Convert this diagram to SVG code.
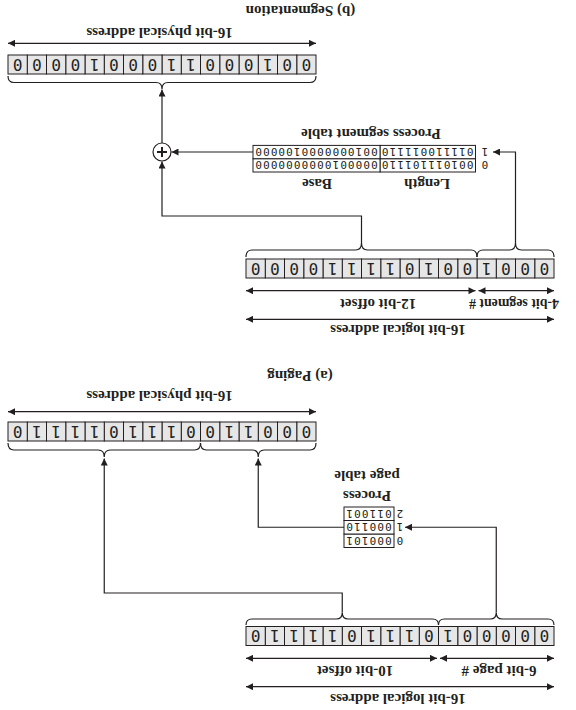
<svg xmlns="http://www.w3.org/2000/svg" width="576" height="710" viewBox="0 0 576 710">
<style>
.lbl{font-family:"Liberation Serif","Times New Roman",serif;font-weight:bold;font-size:15px;fill:#231f20;text-anchor:middle}
.cell{fill:#e6e6e6;stroke:#231f20;stroke-width:1}
.bit{font-family:"DejaVu Sans Mono",monospace;font-size:16px;fill:#231f20;text-anchor:middle}
.tc{fill:#fff;stroke:#231f20;stroke-width:1}
.tbit{font-family:"DejaVu Sans Mono",monospace;font-size:11px;letter-spacing:1.1px;fill:#231f20;text-anchor:middle}
.tnum{font-family:"DejaVu Sans Mono",monospace;font-size:11px;fill:#231f20;text-anchor:middle}
.ln{fill:none;stroke:#231f20;stroke-width:1.2}
.da{fill:none;stroke:#231f20;stroke-width:1.2;marker-start:url(#ah);marker-end:url(#ah)}
.sa{fill:none;stroke:#231f20;stroke-width:1.2;marker-end:url(#ah)}
</style>
<defs>
<marker id="ah" viewBox="0 0 10 10" refX="10" refY="5" markerWidth="8" markerHeight="7" markerUnits="userSpaceOnUse" orient="auto-start-reverse"><path d="M0,0 L10,5 L0,10 z" fill="#231f20"/></marker>
</defs>
<rect width="576" height="710" fill="#fff"/>
<g transform="rotate(180 288 355)">
<!-- ===== Paging ===== -->
<g id="pg-logical-labels">
<text class="lbl" x="178" y="16">16-bit logical address</text>
<text class="lbl" x="77" y="44">6-bit page #</text>
<text class="lbl" x="221" y="44">10-bit offset</text>
</g>
<g id="pg-logical">
<rect class="cell" x="22" y="64.5" width="19.25" height="19"/><rect class="cell" x="41.25" y="64.5" width="19.25" height="19"/><rect class="cell" x="60.5" y="64.5" width="19.25" height="19"/><rect class="cell" x="79.75" y="64.5" width="19.25" height="19"/><rect class="cell" x="99" y="64.5" width="19.25" height="19"/><rect class="cell" x="118.25" y="64.5" width="19.25" height="19"/><rect class="cell" x="137.5" y="64.5" width="19.25" height="19"/><rect class="cell" x="156.75" y="64.5" width="19.25" height="19"/><rect class="cell" x="176" y="64.5" width="19.25" height="19"/><rect class="cell" x="195.25" y="64.5" width="19.25" height="19"/><rect class="cell" x="214.5" y="64.5" width="19.25" height="19"/><rect class="cell" x="233.75" y="64.5" width="19.25" height="19"/><rect class="cell" x="253" y="64.5" width="19.25" height="19"/><rect class="cell" x="272.25" y="64.5" width="19.25" height="19"/><rect class="cell" x="291.5" y="64.5" width="19.25" height="19"/><rect class="cell" x="310.75" y="64.5" width="19.25" height="19"/>
<text class="bit" y="79.8"><tspan x="31.6">0</tspan><tspan x="50.9">0</tspan><tspan x="70.1">0</tspan><tspan x="89.4">0</tspan><tspan x="108.6">0</tspan><tspan x="127.9">1</tspan><tspan x="147.1">0</tspan><tspan x="166.4">1</tspan><tspan x="185.6">1</tspan><tspan x="204.9">1</tspan><tspan x="224.1">0</tspan><tspan x="243.4">1</tspan><tspan x="262.6">1</tspan><tspan x="281.9">1</tspan><tspan x="301.1">1</tspan><tspan x="320.4">0</tspan></text>
</g>
<g id="pg-page-table">
<rect class="tc" x="182" y="162.5" width="50" height="13.5"/><rect class="tc" x="182" y="176" width="50" height="13.5"/><rect class="tc" x="182" y="189.5" width="50" height="13.5"/>
<text class="tbit" x="207.5" y="173.2">000101</text><text class="tbit" x="207.5" y="186.7">000110</text><text class="tbit" x="207.5" y="200.2">011001</text>
<text class="tnum" x="176" y="173.2">0</text><text class="tnum" x="176" y="186.7">1</text><text class="tnum" x="176" y="200.2">2</text>
<text class="lbl" x="209" y="219">Process</text>
<text class="lbl" x="209" y="239">page table</text>
</g>
<g id="pg-physical">
<rect class="cell" x="260" y="269" width="19.25" height="19"/><rect class="cell" x="279.25" y="269" width="19.25" height="19"/><rect class="cell" x="298.5" y="269" width="19.25" height="19"/><rect class="cell" x="317.75" y="269" width="19.25" height="19"/><rect class="cell" x="337" y="269" width="19.25" height="19"/><rect class="cell" x="356.25" y="269" width="19.25" height="19"/><rect class="cell" x="375.5" y="269" width="19.25" height="19"/><rect class="cell" x="394.75" y="269" width="19.25" height="19"/><rect class="cell" x="414" y="269" width="19.25" height="19"/><rect class="cell" x="433.25" y="269" width="19.25" height="19"/><rect class="cell" x="452.5" y="269" width="19.25" height="19"/><rect class="cell" x="471.75" y="269" width="19.25" height="19"/><rect class="cell" x="491" y="269" width="19.25" height="19"/><rect class="cell" x="510.25" y="269" width="19.25" height="19"/><rect class="cell" x="529.5" y="269" width="19.25" height="19"/><rect class="cell" x="548.75" y="269" width="19.25" height="19"/>
<text class="bit" y="284.3"><tspan x="269.6">0</tspan><tspan x="288.9">0</tspan><tspan x="308.1">0</tspan><tspan x="327.4">1</tspan><tspan x="346.6">1</tspan><tspan x="365.9">0</tspan><tspan x="385.1">0</tspan><tspan x="404.4">1</tspan><tspan x="423.6">1</tspan><tspan x="442.9">1</tspan><tspan x="462.1">0</tspan><tspan x="481.4">1</tspan><tspan x="500.6">1</tspan><tspan x="519.9">1</tspan><tspan x="539.1">1</tspan><tspan x="558.4">0</tspan></text>
<text class="lbl" x="416.5" y="319.5">16-bit physical address</text>
<text class="lbl" x="276" y="339.5">(a) Paging</text>
</g>
<!-- ===== Segmentation ===== -->
<g id="sg-logical-labels">
<text class="lbl" x="178" y="385.5">16-bit logical address</text>
<text class="lbl" x="62" y="411.5" textLength="90" lengthAdjust="spacingAndGlyphs">4-bit segment #</text>
<text class="lbl" x="198" y="411.5">12-bit offset</text>
</g>
<g id="sg-logical">
<rect class="cell" x="22" y="432" width="19.25" height="19"/><rect class="cell" x="41.25" y="432" width="19.25" height="19"/><rect class="cell" x="60.5" y="432" width="19.25" height="19"/><rect class="cell" x="79.75" y="432" width="19.25" height="19"/><rect class="cell" x="99" y="432" width="19.25" height="19"/><rect class="cell" x="118.25" y="432" width="19.25" height="19"/><rect class="cell" x="137.5" y="432" width="19.25" height="19"/><rect class="cell" x="156.75" y="432" width="19.25" height="19"/><rect class="cell" x="176" y="432" width="19.25" height="19"/><rect class="cell" x="195.25" y="432" width="19.25" height="19"/><rect class="cell" x="214.5" y="432" width="19.25" height="19"/><rect class="cell" x="233.75" y="432" width="19.25" height="19"/><rect class="cell" x="253" y="432" width="19.25" height="19"/><rect class="cell" x="272.25" y="432" width="19.25" height="19"/><rect class="cell" x="291.5" y="432" width="19.25" height="19"/><rect class="cell" x="310.75" y="432" width="19.25" height="19"/>
<text class="bit" y="447.3"><tspan x="31.6">0</tspan><tspan x="50.9">0</tspan><tspan x="70.1">0</tspan><tspan x="89.4">1</tspan><tspan x="108.6">0</tspan><tspan x="127.9">0</tspan><tspan x="147.1">1</tspan><tspan x="166.4">0</tspan><tspan x="185.6">1</tspan><tspan x="204.9">1</tspan><tspan x="224.1">1</tspan><tspan x="243.4">1</tspan><tspan x="262.6">0</tspan><tspan x="281.9">0</tspan><tspan x="301.1">0</tspan><tspan x="320.4">0</tspan></text>
</g>
<g id="sg-segment-table">
<text class="lbl" x="149" y="531.5">Length</text>
<text class="lbl" x="259" y="531.5">Base</text>
<rect class="tc" x="100.5" y="538" width="95.5" height="13.3"/><rect class="tc" x="196" y="538" width="127" height="13.3"/>
<rect class="tc" x="100.5" y="551.3" width="95.5" height="13.3"/><rect class="tc" x="196" y="551.3" width="127" height="13.3"/>
<text class="tbit" x="148.8" y="548.7">001011101110</text><text class="tbit" x="260" y="548.7">0000010000000000</text>
<text class="tbit" x="148.8" y="562">011110011110</text><text class="tbit" x="260" y="562">0010000000100000</text>
<text class="tnum" x="91" y="548.7">0</text><text class="tnum" x="91" y="562">1</text>
<text class="lbl" x="205" y="581.5">Process segment table</text>
</g>
<g id="sg-adder">
<circle cx="414" cy="558" r="9" fill="#fff" stroke="#231f20" stroke-width="1.2"/>
<path d="M409,558 H419 M414,553 V563" stroke="#231f20" stroke-width="2" fill="none"/>
</g>
<g id="sg-physical">
<rect class="cell" x="260" y="636" width="19.25" height="19"/><rect class="cell" x="279.25" y="636" width="19.25" height="19"/><rect class="cell" x="298.5" y="636" width="19.25" height="19"/><rect class="cell" x="317.75" y="636" width="19.25" height="19"/><rect class="cell" x="337" y="636" width="19.25" height="19"/><rect class="cell" x="356.25" y="636" width="19.25" height="19"/><rect class="cell" x="375.5" y="636" width="19.25" height="19"/><rect class="cell" x="394.75" y="636" width="19.25" height="19"/><rect class="cell" x="414" y="636" width="19.25" height="19"/><rect class="cell" x="433.25" y="636" width="19.25" height="19"/><rect class="cell" x="452.5" y="636" width="19.25" height="19"/><rect class="cell" x="471.75" y="636" width="19.25" height="19"/><rect class="cell" x="491" y="636" width="19.25" height="19"/><rect class="cell" x="510.25" y="636" width="19.25" height="19"/><rect class="cell" x="529.5" y="636" width="19.25" height="19"/><rect class="cell" x="548.75" y="636" width="19.25" height="19"/>
<text class="bit" y="651.3"><tspan x="269.6">0</tspan><tspan x="288.9">0</tspan><tspan x="308.1">1</tspan><tspan x="327.4">0</tspan><tspan x="346.6">0</tspan><tspan x="365.9">0</tspan><tspan x="385.1">1</tspan><tspan x="404.4">1</tspan><tspan x="423.6">0</tspan><tspan x="442.9">0</tspan><tspan x="462.1">0</tspan><tspan x="481.4">1</tspan><tspan x="500.6">0</tspan><tspan x="519.9">0</tspan><tspan x="539.1">0</tspan><tspan x="558.4">0</tspan></text>
<text class="lbl" x="416.5" y="682.5">16-bit physical address</text>
<text class="lbl" x="275.5" y="704.5">(b) Segmentation</text>
</g>
<!-- ===== Connectors ===== -->
<g id="connectors">
<path class="da" d="M22,23.3 H330"/>
<path class="da" d="M22,51.7 H136"/>
<path class="da" d="M139,51.7 H330"/>
<path class="da" d="M260,298.3 H568"/>
<path class="ln" d="M22,85 Q22,91 28,91 L73.75,91 Q79.75,91 79.75,97.5 Q79.75,91 85.75,91 L131.5,91 Q137.5,91 137.5,85"/>
<path class="ln" d="M137.5,85 Q137.5,91 143.5,91 L227.75,91 Q233.75,91 233.75,97.5 Q233.75,91 239.75,91 L324,91 Q330,91 330,85"/>
<path class="ln" d="M260,267 Q260,260 266,260 L311.75,260 Q317.75,260 317.75,253 Q317.75,260 323.75,260 L369.5,260 Q375.5,260 375.5,267"/>
<path class="ln" d="M375.5,267 Q375.5,260 381.5,260 L465.75,260 Q471.75,260 471.75,253 Q471.75,260 477.75,260 L562,260 Q568,260 568,267"/>
<path class="sa" d="M79.75,97.5 V182.75 H171"/>
<path class="sa" d="M232,182.75 H317.75 V251.5"/>
<path class="sa" d="M233.75,97.5 V117 H471.75 V251.5"/>
<path class="da" d="M22,390.7 H330"/>
<path class="da" d="M22,419.3 H97.5"/>
<path class="da" d="M100.5,419.3 H330"/>
<path class="da" d="M260,666.7 H568"/>
<path class="ln" d="M22,453 Q22,460 28,460 L54.5,460 Q60.5,460 60.5,467 Q60.5,460 66.5,460 L93,460 Q99,460 99,453"/>
<path class="ln" d="M99,453 Q99,460 105,460 L208.5,460 Q214.5,460 214.5,467 Q214.5,460 220.5,460 L324,460 Q330,460 330,453"/>
<path class="ln" d="M260,634 Q260,627.5 266,627.5 L408,627.5 Q414,627.5 414,621 Q414,627.5 420,627.5 L562,627.5 Q568,627.5 568,634"/>
<path class="sa" d="M60.5,467 V558 H83"/>
<path class="sa" d="M323,558 H404.5"/>
<path class="sa" d="M214.5,467 V494 H414 V548.5"/>
<path class="sa" d="M414,567 V620.5"/>
</g>
</g>
</svg>
